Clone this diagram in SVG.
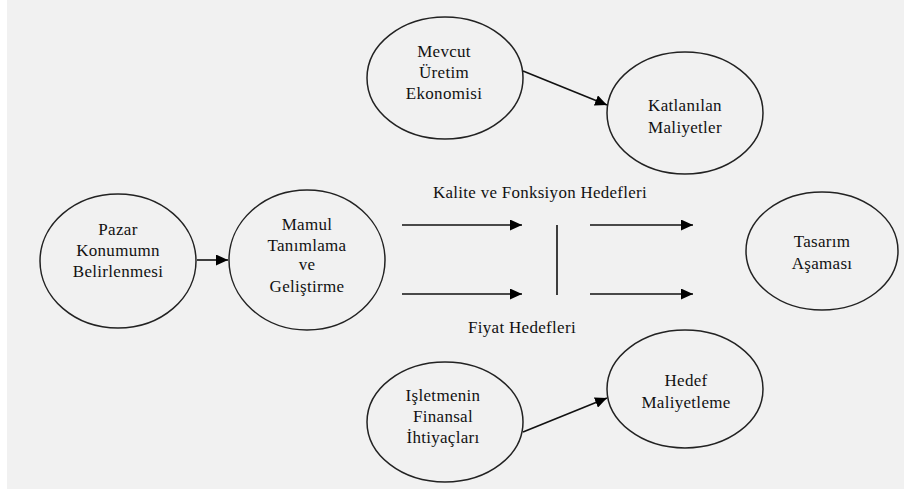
<svg xmlns="http://www.w3.org/2000/svg" width="904" height="490" viewBox="0 0 904 490">
<defs>
<marker id="ah" markerUnits="userSpaceOnUse" markerWidth="13" markerHeight="11" refX="12" refY="5.5" orient="auto">
<path d="M0,0 L12,5.5 L0,11 Z" fill="#000"/>
</marker>
<style>
.n ellipse{fill:none;stroke:#222;stroke-width:1.5}
.t{font-family:'Liberation Serif','Times New Roman','DejaVu Serif',serif;font-size:17px;fill:#111;text-anchor:middle;letter-spacing:0.3px}
.c line{stroke:#111;stroke-width:1.6}
</style>
</defs>
<rect x="0" y="0" width="904" height="490" fill="#fff"/>
<rect x="7" y="0" width="897" height="489" fill="#f1f1f1"/>
<g class="n" id="mevcut">
<ellipse cx="445" cy="78" rx="78" ry="61"/>
<text class="t" x="444" y="57">Mevcut</text>
<text class="t" x="444" y="78">Üretim</text>
<text class="t" x="444" y="99">Ekonomisi</text>
</g>
<g class="n" id="katlanilan">
<ellipse cx="685" cy="113" rx="78" ry="61"/>
<text class="t" x="685" y="111">Katlanılan</text>
<text class="t" x="685" y="133">Maliyetler</text>
</g>
<g class="n" id="pazar">
<ellipse cx="118" cy="261" rx="78" ry="67"/>
<text class="t" x="118" y="235">Pazar</text>
<text class="t" x="118" y="256">Konumumn</text>
<text class="t" x="118" y="277">Belirlenmesi</text>
</g>
<g class="n" id="mamul">
<ellipse cx="307" cy="260" rx="78" ry="70"/>
<text class="t" x="307" y="230">Mamul</text>
<text class="t" x="307" y="251">Tanımlama</text>
<text class="t" x="307" y="270">ve</text>
<text class="t" x="307" y="292">Geliştirme</text>
</g>
<g class="n" id="tasarim">
<ellipse cx="822" cy="251" rx="76" ry="59"/>
<text class="t" x="822" y="247">Tasarım</text>
<text class="t" x="822" y="269">Aşaması</text>
</g>
<g class="n" id="isletmenin">
<ellipse cx="445" cy="422" rx="78" ry="60"/>
<text class="t" x="443" y="401">Işletmenin</text>
<text class="t" x="443" y="422">Finansal</text>
<text class="t" x="443" y="443">İhtiyaçları</text>
</g>
<g class="n" id="hedef">
<ellipse cx="685" cy="389" rx="78" ry="59"/>
<text class="t" x="686" y="386">Hedef</text>
<text class="t" x="686" y="408">Maliyetleme</text>
</g>
<g class="c" id="connectors">
<line x1="523" y1="71" x2="607" y2="105" marker-end="url(#ah)"/>
<line x1="197" y1="260" x2="228" y2="260" marker-end="url(#ah)"/>
<line x1="523" y1="432" x2="607" y2="398" marker-end="url(#ah)"/>
<line x1="402" y1="225" x2="522" y2="225" marker-end="url(#ah)"/>
<line x1="402" y1="294" x2="522" y2="294" marker-end="url(#ah)"/>
<line x1="557" y1="225" x2="557" y2="295"/>
<line x1="590" y1="225" x2="693" y2="225" marker-end="url(#ah)"/>
<line x1="590" y1="294" x2="693" y2="294" marker-end="url(#ah)"/>
<text class="t" x="540" y="198" textLength="214" lengthAdjust="spacingAndGlyphs">Kalite ve Fonksiyon Hedefleri</text>
<text class="t" x="522" y="333">Fiyat Hedefleri</text>
</g>
</svg>
